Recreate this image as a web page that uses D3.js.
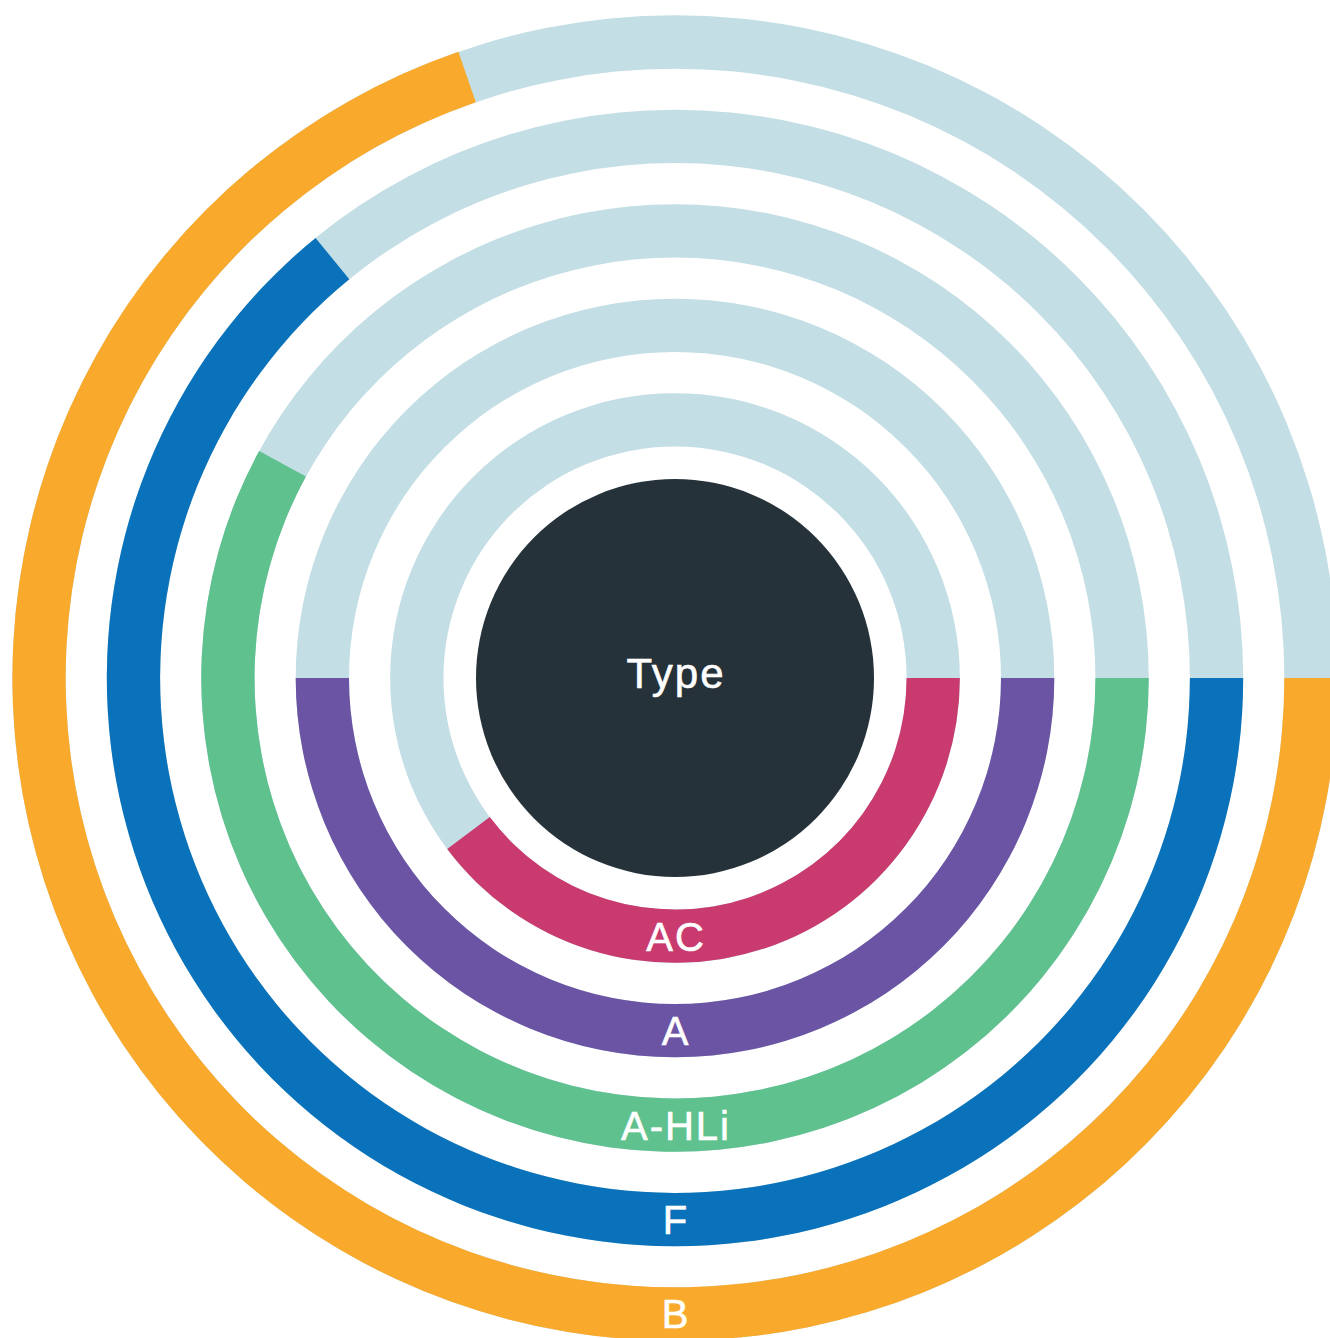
<!DOCTYPE html>
<html>
<head>
<meta charset="utf-8">
<script src="https://cdn.jsdelivr.net/npm/d3@7"></script>
<style>
  html, body { margin: 0; padding: 0; background: #ffffff; overflow: hidden; }
  svg { display: block; }
  text {
    font-family: "Liberation Sans", Arial, Helvetica, sans-serif;
    fill: #ffffff;
    stroke: #ffffff;
    stroke-width: 0.6px;
    letter-spacing: 2px;
  }
</style>
</head>
<body>
<svg id="chart" width="1330" height="1338"></svg>
<script>
// Ring categories, innermost first, and the share of a full turn each one fills (percent)
const categories = ["AC", "A", "A-HLi", "F", "B"];
const values = [39.75, 50, 57.95, 64.1, 69.7];
const colors = ["#C93A6F", "#6C54A4", "#5FC18D", "#0A72BA", "#F9AA2C"];
const centerLabel = "Type";

const width = 1330, height = 1338;
const cx = 675, cy = 678;

const svg = d3.select("#chart");
const g = svg.append("g").attr("transform", `translate(${cx},${cy})`);

// Radial band per category
const rScale = d3.scaleBand()
  .domain(categories)
  .range([211, 683.2])
  .paddingInner(0.4356)
  .paddingOuter(0.2178);

// Angle: 0..100 percent of a full turn, starting at 3 o'clock and running clockwise
const aScale = d3.scaleLinear().domain([0, 100]).range([Math.PI / 2, Math.PI / 2 + 2 * Math.PI]);

const arc = d3.arc()
  .innerRadius(d => rScale(d.cat))
  .outerRadius(d => rScale(d.cat) + rScale.bandwidth())
  .startAngle(aScale(0))
  .endAngle(d => aScale(d.v));

const data = categories.map((c, i) => ({ cat: c, v: values[i], color: colors[i] }));

// background tracks
g.selectAll("path.track")
  .data(data)
  .join("path")
  .attr("class", "track")
  .attr("fill", "#C3DEE4")
  .attr("d", d => arc({ cat: d.cat, v: 100 }));

// value arcs
g.selectAll("path.bar")
  .data(data)
  .join("path")
  .attr("class", "bar")
  .attr("fill", d => d.color)
  .attr("d", arc);

// category labels at the bottom of each ring
g.selectAll("text.cat")
  .data(data)
  .join("text")
  .attr("class", "cat")
  .attr("text-anchor", "middle")
  .attr("x", 1)
  .attr("y", d => rScale(d.cat) + rScale.bandwidth() / 2)
  .attr("dy", "0.36em")
  .style("font-size", "40px")
  .text(d => d.cat);

// central disc
g.append("circle")
  .attr("r", 199)
  .attr("fill", "#26323A");

g.append("text")
  .attr("text-anchor", "middle")
  .attr("x", 1)
  .attr("y", 0)
  .attr("dy", "0.24em")
  .style("font-size", "42px")
  .text(centerLabel);
</script>
</body>
</html>
